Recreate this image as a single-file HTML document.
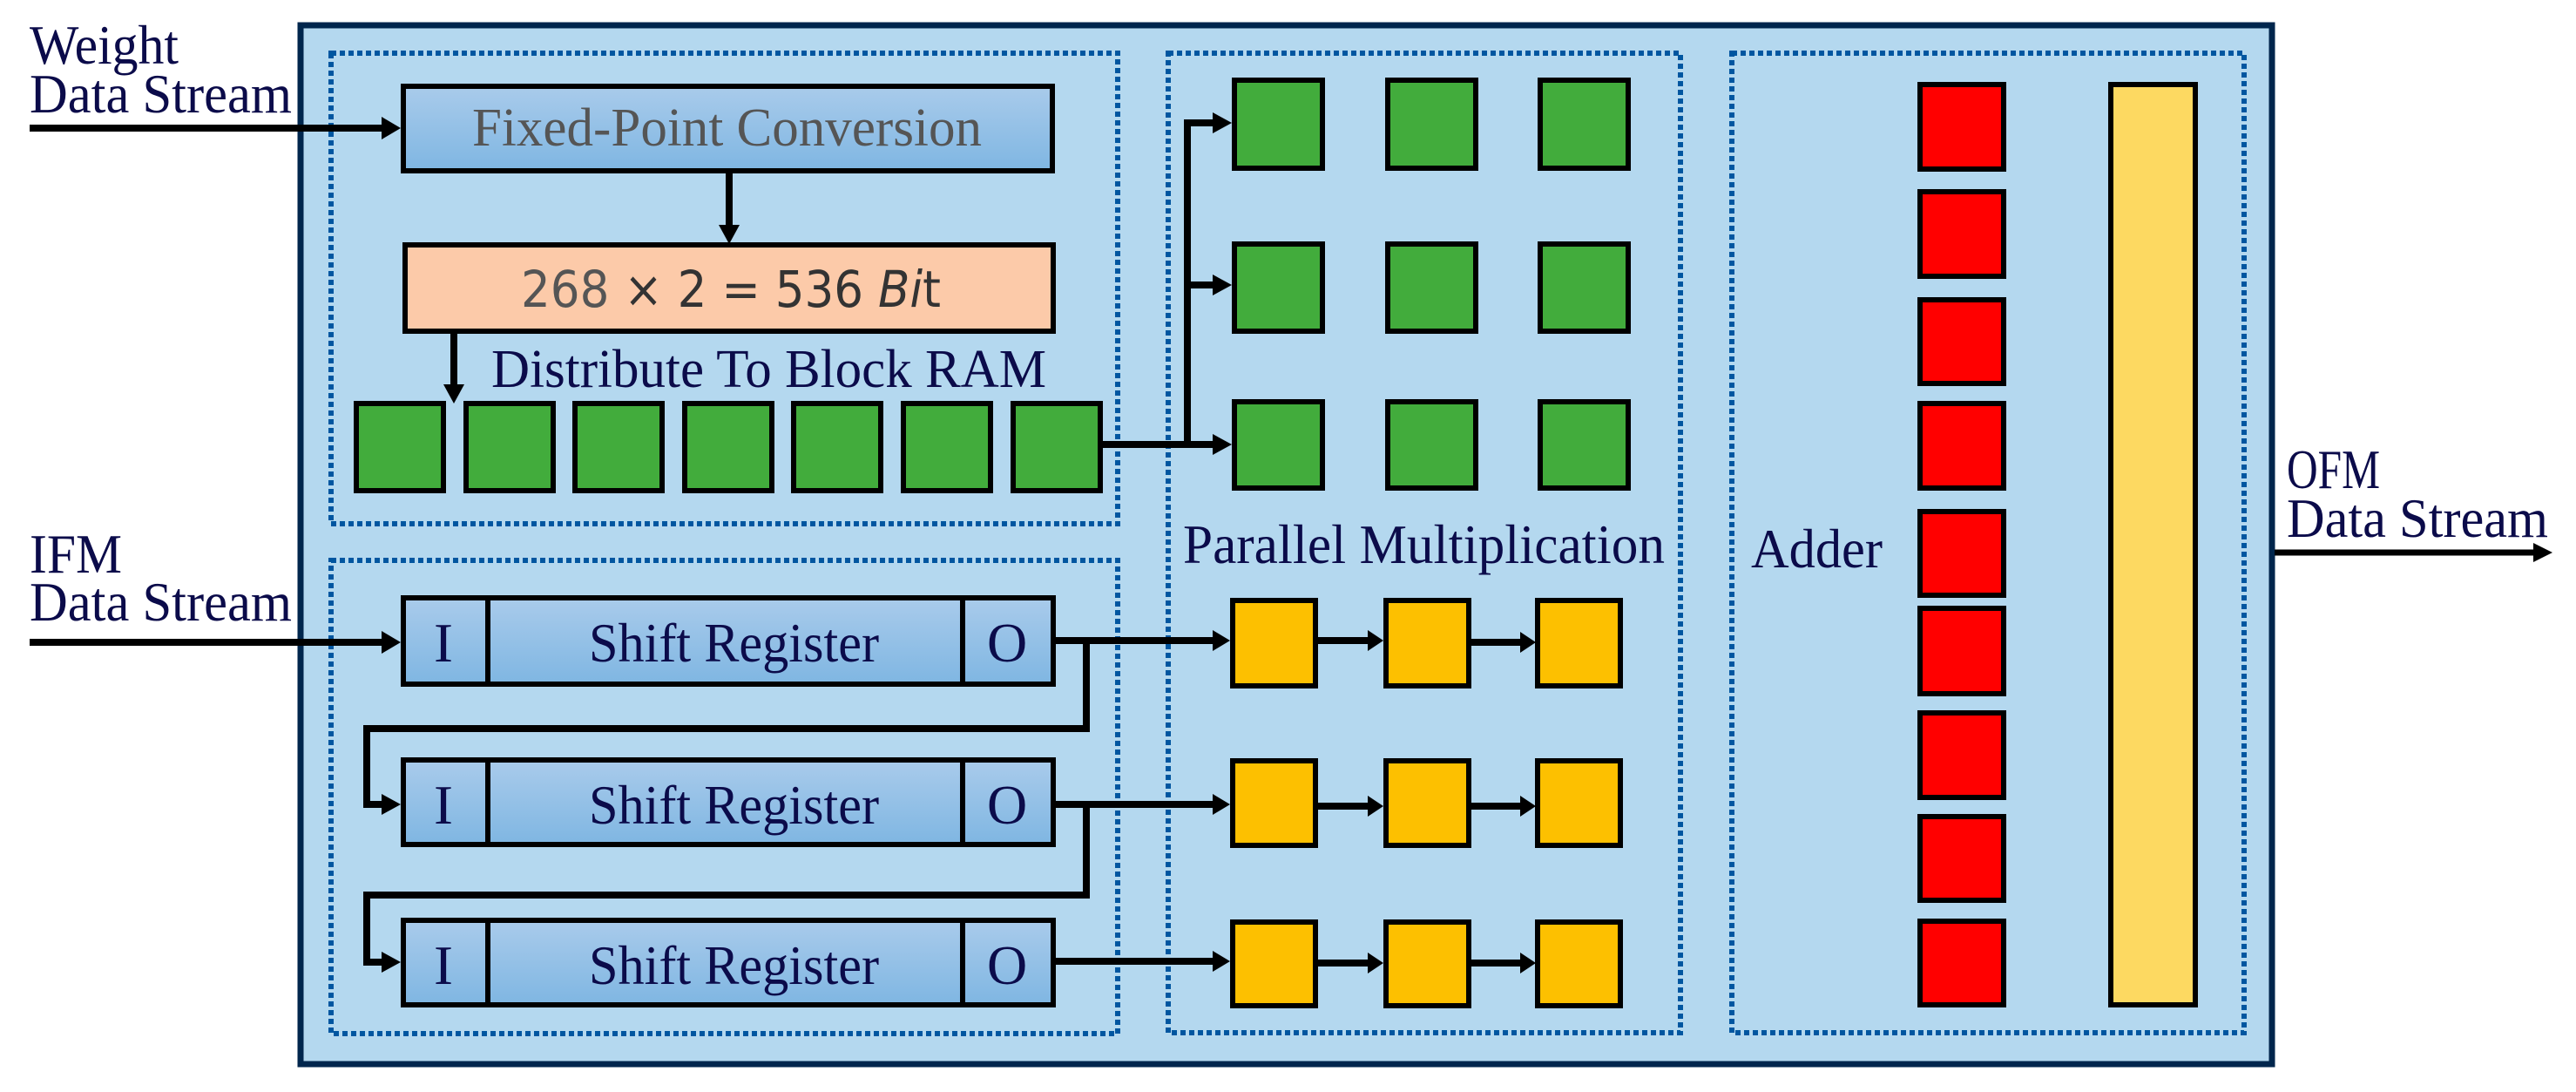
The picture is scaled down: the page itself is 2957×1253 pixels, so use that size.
<!DOCTYPE html>
<html><head><meta charset="utf-8"><style>html,body{margin:0;padding:0;background:#fff}svg{display:block}</style></head><body>
<svg xmlns="http://www.w3.org/2000/svg" width="2957" height="1253" viewBox="0 0 2957 1253">
<defs>
<linearGradient id="bg" x1="0" y1="0" x2="0" y2="1"><stop offset="0" stop-color="#a9cbeb"/><stop offset="1" stop-color="#7fb6e2"/></linearGradient>
</defs>
<g font-family="Liberation Serif, serif" fill="#0b0b4a">
<rect x="345" y="29" width="2263" height="1192" fill="#b4d8ef" stroke="#00264d" stroke-width="7"/>
<g fill="none" stroke="#0056a0" stroke-width="6" stroke-dasharray="6 4">
<rect x="380" y="61" width="903" height="540"/>
<rect x="380" y="643" width="903" height="543"/>
<rect x="1341" y="61" width="588" height="1124"/>
<rect x="1988" y="61" width="588" height="1124"/>
</g>
<text x="34" y="73" font-size="64" textLength="171" lengthAdjust="spacingAndGlyphs">Weight</text>
<text x="34" y="129" font-size="64" textLength="301" lengthAdjust="spacingAndGlyphs">Data Stream</text>
<text x="34" y="657" font-size="64" textLength="106" lengthAdjust="spacingAndGlyphs">IFM</text>
<text x="34" y="712" font-size="64" textLength="301" lengthAdjust="spacingAndGlyphs">Data Stream</text>
<text x="2625" y="560" font-size="64" textLength="107" lengthAdjust="spacingAndGlyphs">OFM</text>
<text x="2625" y="616" font-size="64" textLength="300" lengthAdjust="spacingAndGlyphs">Data Stream</text>
<rect x="463" y="99" width="745" height="97" fill="url(#bg)" stroke="#000" stroke-width="6"/>
<text x="542" y="167" font-size="62" fill="#555" textLength="585" lengthAdjust="spacingAndGlyphs">Fixed-Point Conversion</text>
<rect x="465" y="281" width="744" height="99" fill="#fccaa9" stroke="#000" stroke-width="6"/>
<text x="598" y="352" font-size="58" fill="#333" font-family="DejaVu Sans, sans-serif" textLength="482" lengthAdjust="spacingAndGlyphs"><tspan fill="#555">268 </tspan>× 2 = 536 <tspan font-style="italic">Bi</tspan>t</text>
<text x="564" y="444" font-size="62" textLength="637" lengthAdjust="spacingAndGlyphs">Distribute To Block RAM</text>
<g fill="#42ac3c" stroke="#000" stroke-width="6">
<rect x="409" y="463" width="100" height="100"/><rect x="535" y="463" width="100" height="100"/><rect x="660" y="463" width="100" height="100"/><rect x="786" y="463" width="100" height="100"/><rect x="911" y="463" width="100" height="100"/><rect x="1037" y="463" width="100" height="100"/><rect x="1163" y="463" width="100" height="100"/>
<rect x="1417" y="92" width="101" height="101"/><rect x="1593" y="92" width="101" height="101"/><rect x="1768" y="92" width="101" height="101"/>
<rect x="1417" y="280" width="101" height="100"/><rect x="1593" y="280" width="101" height="100"/><rect x="1768" y="280" width="101" height="100"/>
<rect x="1417" y="461" width="101" height="99"/><rect x="1593" y="461" width="101" height="99"/><rect x="1768" y="461" width="101" height="99"/>
</g>
<g stroke="#000" stroke-width="6" fill="url(#bg)">
<rect x="463" y="686" width="746" height="99"/><line x1="560" y1="686" x2="560" y2="785"/><line x1="1105" y1="686" x2="1105" y2="785"/>
<rect x="463" y="872" width="746" height="97"/><line x1="560" y1="872" x2="560" y2="969"/><line x1="1105" y1="872" x2="1105" y2="969"/>
<rect x="463" y="1056" width="746" height="97"/><line x1="560" y1="1056" x2="560" y2="1153"/><line x1="1105" y1="1056" x2="1105" y2="1153"/>
</g>
<g font-size="64">
<text x="498" y="759" textLength="22" lengthAdjust="spacingAndGlyphs">I</text><text x="1133" y="759">O</text><text x="676" y="759" textLength="333" lengthAdjust="spacingAndGlyphs">Shift Register</text>
<text x="498" y="945" textLength="22" lengthAdjust="spacingAndGlyphs">I</text><text x="1133" y="945">O</text><text x="676" y="945" textLength="333" lengthAdjust="spacingAndGlyphs">Shift Register</text>
<text x="498" y="1129" textLength="22" lengthAdjust="spacingAndGlyphs">I</text><text x="1133" y="1129">O</text><text x="676" y="1129" textLength="333" lengthAdjust="spacingAndGlyphs">Shift Register</text>
</g>
<text x="1358" y="646" font-size="64" textLength="553" lengthAdjust="spacingAndGlyphs">Parallel Multiplication</text>
<text x="2010" y="651" font-size="64" textLength="151" lengthAdjust="spacingAndGlyphs">Adder</text>
<g fill="#fdc000" stroke="#000" stroke-width="6">
<rect x="1415" y="689" width="95" height="98"/><rect x="1591" y="689" width="95" height="98"/><rect x="1765" y="689" width="95" height="98"/>
<rect x="1415" y="873" width="95" height="97"/><rect x="1591" y="873" width="95" height="97"/><rect x="1765" y="873" width="95" height="97"/>
<rect x="1415" y="1058" width="95" height="96"/><rect x="1591" y="1058" width="95" height="96"/><rect x="1765" y="1058" width="95" height="96"/>
</g>
<g fill="#ff0000" stroke="#000" stroke-width="6">
<rect x="2204" y="97" width="96" height="97"/><rect x="2204" y="220" width="96" height="97"/><rect x="2204" y="344" width="96" height="96"/><rect x="2204" y="463" width="96" height="97"/><rect x="2204" y="587" width="96" height="96"/><rect x="2204" y="698" width="96" height="98"/><rect x="2204" y="818" width="96" height="97"/><rect x="2204" y="937" width="96" height="96"/><rect x="2204" y="1057" width="96" height="96"/>
</g>
<rect x="2423" y="97" width="97" height="1056" fill="#fdd961" stroke="#000" stroke-width="6"/>
<g stroke="#000" stroke-width="8" fill="none">
<line x1="34" y1="147" x2="445" y2="147"/>
<line x1="837" y1="199" x2="837" y2="262"/>
<line x1="521" y1="383" x2="521" y2="445"/>
<line x1="1266" y1="510" x2="1398" y2="510"/>
<polyline points="1399,141 1363,141 1363,510"/>
<line x1="1363" y1="327" x2="1398" y2="327"/>
<line x1="34" y1="737" x2="445" y2="737"/>
<polyline points="1212,735 1247,735 1247,836 421,836 421,923 444,923"/>
<polyline points="1212,923 1247,923 1247,1027 421,1027 421,1104 444,1104"/>
<line x1="1247" y1="735" x2="1397" y2="735"/>
<line x1="1247" y1="923" x2="1397" y2="923"/>
<line x1="1212" y1="1103" x2="1397" y2="1103"/>
<line x1="1513" y1="735" x2="1573" y2="735"/><line x1="1689" y1="737" x2="1748" y2="737"/>
<line x1="1513" y1="925" x2="1573" y2="925"/><line x1="1689" y1="925" x2="1748" y2="925"/>
<line x1="1513" y1="1105" x2="1573" y2="1105"/><line x1="1689" y1="1105" x2="1748" y2="1105"/>
<line x1="2611" y1="634" x2="2912" y2="634" stroke-width="7"/>
</g>
<g fill="#000">
<path d="M460,147 l-22,-13 v26z"/>
<path d="M837,280 l-12,-22 h24z"/>
<path d="M521,463 l-12,-22 h24z"/>
<path d="M1414,141 l-22,-12 v24z"/><path d="M1414,327 l-22,-12 v24z"/><path d="M1414,510 l-22,-12 v24z"/>
<path d="M460,737 l-22,-13 v26z"/><path d="M460,923 l-22,-12 v24z"/><path d="M460,1104 l-22,-12 v24z"/>
<path d="M1412,735 l-20,-12 v24z"/><path d="M1412,923 l-20,-12 v24z"/><path d="M1412,1103 l-20,-12 v24z"/>
<path d="M1588,735 l-18,-12 v24z"/><path d="M1763,737 l-18,-12 v24z"/>
<path d="M1588,925 l-18,-12 v24z"/><path d="M1763,925 l-18,-12 v24z"/>
<path d="M1588,1105 l-18,-12 v24z"/><path d="M1763,1105 l-18,-12 v24z"/>
<path d="M2930,634 l-22,-11 v22z"/>
</g>
</g>
</svg>
</body></html>
